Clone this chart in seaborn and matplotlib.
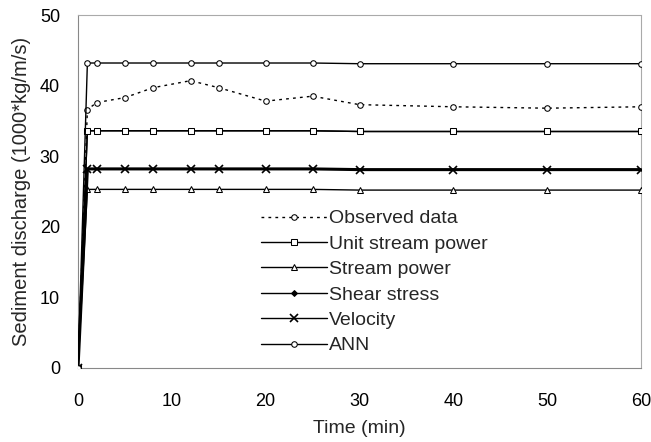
import matplotlib
matplotlib.use("Agg")
import matplotlib.pyplot as plt
import seaborn as sns
import pandas as pd

time = [0, 1, 2, 5, 8, 12, 15, 20, 25, 30, 40, 50, 60]
observed = [0, 36.6, 37.6, 38.3, 39.7, 40.7, 39.7, 37.8, 38.5, 37.3, 37.0, 36.8, 37.0]
unit_stream_power = [0, 33.6, 33.6, 33.6, 33.6, 33.6, 33.6, 33.6, 33.6, 33.5, 33.5, 33.5, 33.5]
stream_power = [0, 25.3, 25.3, 25.3, 25.3, 25.3, 25.3, 25.3, 25.3, 25.2, 25.2, 25.2, 25.2]
shear_stress = [0, 33.6, 33.6, 33.6, 33.6, 33.6, 33.6, 33.6, 33.6, 33.5, 33.5, 33.5, 33.5]
velocity = [0, 28.2, 28.2, 28.2, 28.2, 28.2, 28.2, 28.2, 28.2, 28.1, 28.1, 28.1, 28.1]
ann = [0, 43.2, 43.2, 43.2, 43.2, 43.2, 43.2, 43.2, 43.2, 43.1, 43.1, 43.1, 43.1]

sns.set_theme(style="white")
plt.rcParams['font.family'] = ['Liberation Sans', 'DejaVu Sans']

fig = plt.figure(figsize=(6.51, 4.42), dpi=100)
ax = fig.add_axes([78/651, 1-368/442, 563/651, 353/442])

series = [
    ("Observed data", observed, dict(linestyle=(0, (2, 3)), marker="o", markerfacecolor="white", markersize=4, linewidth=1.0, zorder=3)),
    ("Unit stream power", unit_stream_power, dict(linestyle="-", marker="s", markerfacecolor="white", markersize=4, linewidth=1.0, zorder=3)),
    ("Stream power", stream_power, dict(linestyle="-", marker="^", markerfacecolor="white", markersize=4, linewidth=1.0, zorder=3)),
    ("Shear stress", shear_stress, dict(linestyle="-", marker="D", markerfacecolor="black", markersize=3, linewidth=1.0, zorder=2)),
    ("Velocity", velocity, dict(linestyle="-", marker="x", markersize=5.5, markeredgewidth=1.2, linewidth=2.2, zorder=3)),
    ("ANN", ann, dict(linestyle="-", marker="o", markerfacecolor="white", markersize=4, linewidth=1.0, zorder=3)),
]

for label, vals, kw in series:
    df = pd.DataFrame({"t": time, "v": vals})
    sns.lineplot(data=df, x="t", y="v", ax=ax, color="black", label=label,
                 markeredgecolor="black", **kw)

ax.set_xlim(0, 60)
ax.set_ylim(0, 50)
ax.set_xticks(range(0, 61, 10))
ax.set_yticks(range(0, 51, 10))
ax.tick_params(axis="both", direction="out", length=4, width=0.8, colors="#888888",
               labelcolor="black", labelsize=13)
ax.tick_params(axis="x", pad=14)
ax.tick_params(axis="y", pad=9)
ax.set_xlabel("Time (min)", fontsize=14, labelpad=7)
ax.set_ylabel("Sediment discharge (1000*kg/m/s)", fontsize=14.5, labelpad=6)
for side in ["left", "bottom"]:
    ax.spines[side].set_color("#888888")
    ax.spines[side].set_linewidth(0.8)
for side in ["top", "right"]:
    ax.spines[side].set_color("#aaaaaa")
    ax.spines[side].set_linestyle((0, (1, 1)))
    ax.spines[side].set_linewidth(0.8)

leg = ax.legend(loc="upper left", bbox_to_anchor=(0.311, 0.47), frameon=False,
                fontsize=14, handlelength=3.4, handletextpad=0.1, labelspacing=0.4,
                borderaxespad=0)
for ln in leg.get_lines():
    ln.set_linewidth(1.0)
fig.savefig("out.png", dpi=100)
